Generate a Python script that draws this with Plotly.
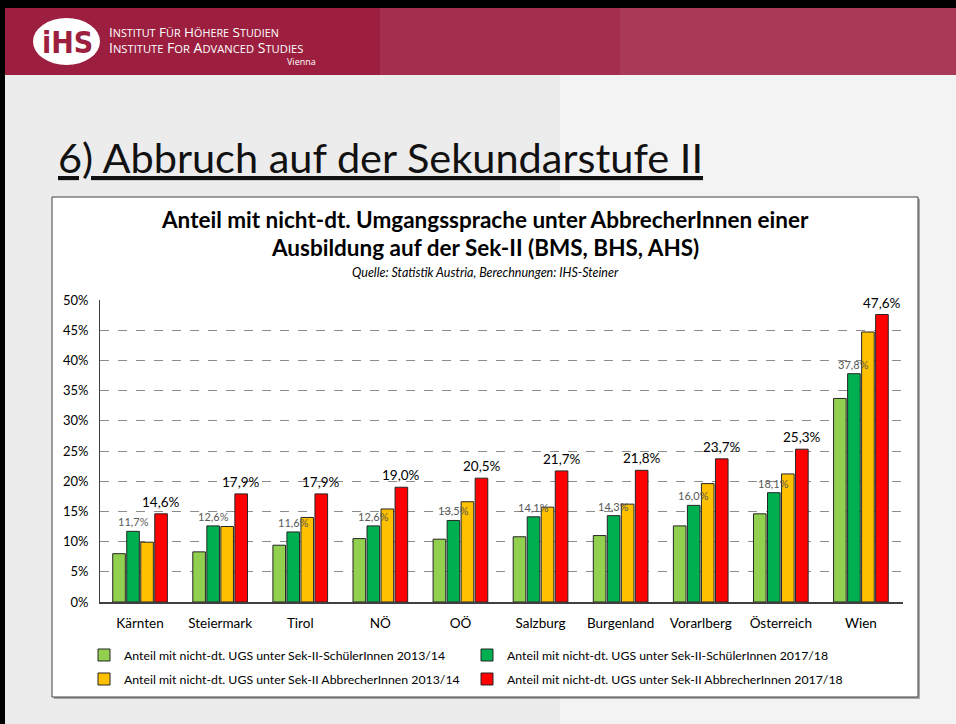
import plotly.graph_objects as go

# Daten (in %)
regionen = ["Kärnten", "Steiermark", "Tirol", "NÖ", "OÖ", "Salzburg",
            "Burgenland", "Vorarlberg", "Österreich", "Wien"]
schueler_1314 = [8.0, 8.3, 9.4, 10.5, 10.4, 10.8, 11.0, 12.6, 14.6, 33.7]
schueler_1718 = [11.7, 12.6, 11.6, 12.6, 13.5, 14.1, 14.3, 16.0, 18.1, 37.8]
abbrecher_1314 = [9.9, 12.5, 14.0, 15.4, 16.6, 15.7, 16.2, 19.6, 21.2, 44.7]
abbrecher_1718 = [14.6, 17.9, 17.9, 19.0, 20.5, 21.7, 21.8, 23.7, 25.3, 47.6]
y_ticks = [0, 5, 10, 15, 20, 25, 30, 35, 40, 45, 50]

namen = ["Anteil mit nicht-dt. UGS unter Sek-II-SchülerInnen 2013/14",
         "Anteil mit nicht-dt. UGS unter Sek-II-SchülerInnen 2017/18",
         "Anteil mit nicht-dt. UGS unter Sek-II AbbrecherInnen 2013/14",
         "Anteil mit nicht-dt. UGS unter Sek-II AbbrecherInnen 2017/18"]
farben = ["#92d050", "#00b050", "#ffc000", "#ff0000"]

W, H = 956, 724
L, R, T, B = 100, 903, 300, 602  # plot area in pixels
BARGAP, GROUPGAP = 0.3, 0.1


def px(x):
    return (x - L) / (R - L)


def py(y):
    return (B - y) / (B - T)


def pct(v):
    return f"{v:.1f}%".replace(".", ",")


FONT = "Lato"
CRIMSON = "#9c1f40"

fig = go.Figure()

legend_ids = ["legend", "legend2", "legend3", "legend4"]
serien = [schueler_1314, schueler_1718, abbrecher_1314, abbrecher_1718]
for i, werte in enumerate(serien):
    fig.add_trace(go.Bar(
        x=regionen, y=werte, name=namen[i],
        marker=dict(color=farben[i], line=dict(color="#262626", width=1)),
        legend=legend_ids[i],
        cliponaxis=False,
    ))

# horizontal offset of a bar inside its group (pixels)
slot = (R - L) / len(regionen) * (1 - BARGAP) / 4


def bar_shift(k):
    return -2 * slot + slot * (k + 0.5)


annotations = []
for reg, v in zip(regionen, schueler_1718):
    annotations.append(dict(x=reg, y=v, xref="x", yref="y", text=pct(v),
                            xshift=bar_shift(1), yshift=1, yanchor="bottom",
                            showarrow=False,
                            font=dict(family=FONT, size=11, color="#595959")))
for reg, v in zip(regionen, abbrecher_1718):
    annotations.append(dict(x=reg, y=v, xref="x", yref="y", text=pct(v),
                            xshift=bar_shift(3), yshift=2, yanchor="bottom",
                            showarrow=False,
                            font=dict(family=FONT, size=13.5, color="black")))

shapes = [
    # slide background
    dict(type="rect", x0=px(5), x1=px(W), y0=py(8), y1=py(H),
         fillcolor="#ececec", line=dict(width=0)),
    dict(type="rect", x0=px(560), x1=px(W), y0=py(75), y1=py(H),
         fillcolor="rgba(255,255,255,0.4)", line=dict(width=0)),
    # header band
    dict(type="rect", x0=px(5), x1=px(W), y0=py(8), y1=py(75),
         fillcolor=CRIMSON, line=dict(width=0)),
    dict(type="rect", x0=px(380), x1=px(W), y0=py(8), y1=py(75),
         fillcolor="rgba(255,255,255,0.07)", line=dict(width=0)),
    dict(type="rect", x0=px(620), x1=px(W), y0=py(8), y1=py(75),
         fillcolor="rgba(255,255,255,0.06)", line=dict(width=0)),
    # logo ellipse
    dict(type="circle", x0=px(33), x1=px(100), y0=py(18), y1=py(65),
         fillcolor="white", line=dict(width=0)),
    # chart box shadow + box
    dict(type="rect", x0=px(54), x1=px(920), y0=py(199), y1=py(699),
         fillcolor="rgba(0,0,0,0.3)", line=dict(width=0)),
    dict(type="rect", x0=px(52), x1=px(918), y0=py(197), y1=py(697),
         fillcolor="white", line=dict(color="#404040", width=1)),
]
for s in shapes:
    s.update(xref="paper", yref="paper", layer="below")


def small_caps(text, small):
    out = []
    for word in text.split(" "):
        out.append(word[0] + f"<span style='font-size:{small}px'>{word[1:]}</span>")
    return " ".join(out)


deko = [
    dict(x=px(67), y=py(42), text="<b>iHS</b>",
         font=dict(family="DejaVu Sans Condensed", size=30, color=CRIMSON)),
    dict(x=px(107), y=py(32), xanchor="left",
         text=small_caps("INSTITUT FÜR HÖHERE STUDIEN", 10.8),
         font=dict(family="Open Sans", size=13.5, color="white")),
    dict(x=px(107), y=py(47), xanchor="left",
         text=small_caps("INSTITUTE FOR ADVANCED STUDIES", 11.2),
         font=dict(family="Open Sans", size=14, color="white")),
    dict(x=px(318), y=py(61), xanchor="right", text="Vienna",
         font=dict(family="Open Sans", size=9, color="white")),
    dict(x=px(56), y=py(157), xanchor="left",
         text="<u>6) Abbruch auf der Sekundarstufe II</u>",
         font=dict(family=FONT, size=41.5, color="#111111")),
    dict(x=px(485), y=py(219), text="<b>Anteil mit nicht-dt. Umgangssprache unter AbbrecherInnen einer</b>",
         font=dict(family=FONT, size=22.5, color="black")),
    dict(x=px(485), y=py(247), text="<b>Ausbildung auf der Sek-II (BMS, BHS, AHS)</b>",
         font=dict(family=FONT, size=22.5, color="black")),
    dict(x=px(485), y=py(272), text="<i>Quelle: Statistik Austria, Berechnungen: IHS-Steiner</i>",
         font=dict(family=FONT, size=12.5, color="black")),
]
for a in deko:
    a.setdefault("xanchor", "center")
    a.update(xref="paper", yref="paper", yanchor="middle", showarrow=False)
annotations += deko

legend_style = dict(orientation="h", xanchor="left", yanchor="middle",
                    bgcolor="rgba(0,0,0,0)",
                    font=dict(family=FONT, size=12.3, color="black"))
legend_pos = [(84, 655), (467, 655), (84, 679), (467, 679)]
legends = {lid: dict(x=px(lx), y=py(ly), **legend_style)
           for lid, (lx, ly) in zip(legend_ids, legend_pos)}

fig.update_layout(
    width=W, height=H,
    margin=dict(l=L, r=W - R, t=T, b=H - B, autoexpand=False),
    paper_bgcolor="black",
    plot_bgcolor="rgba(0,0,0,0)",
    barmode="group",
    bargap=BARGAP,
    bargroupgap=GROUPGAP,
    showlegend=True,
    shapes=shapes,
    annotations=annotations,
    xaxis=dict(
        tickfont=dict(family=FONT, size=13.5, color="black"),
        showline=True, linecolor="#404040", linewidth=1.5,
        ticks="", showgrid=False, ticklabelstandoff=8,
    ),
    yaxis=dict(
        range=[0, 50], tickvals=y_ticks,
        ticktext=[f"{v}%" for v in y_ticks],
        tickfont=dict(family=FONT, size=13, color="black"),
        showgrid=True, gridcolor="#8c8c8c", griddash="dash", gridwidth=1,
        showline=True, linecolor="#404040", linewidth=1,
        zeroline=False, ticks="", ticklabelstandoff=8,
    ),
    **legends,
)

fig.write_html("out.html", config={"displayModeBar": False},
               post_script="document.body.style.margin = '0';")
